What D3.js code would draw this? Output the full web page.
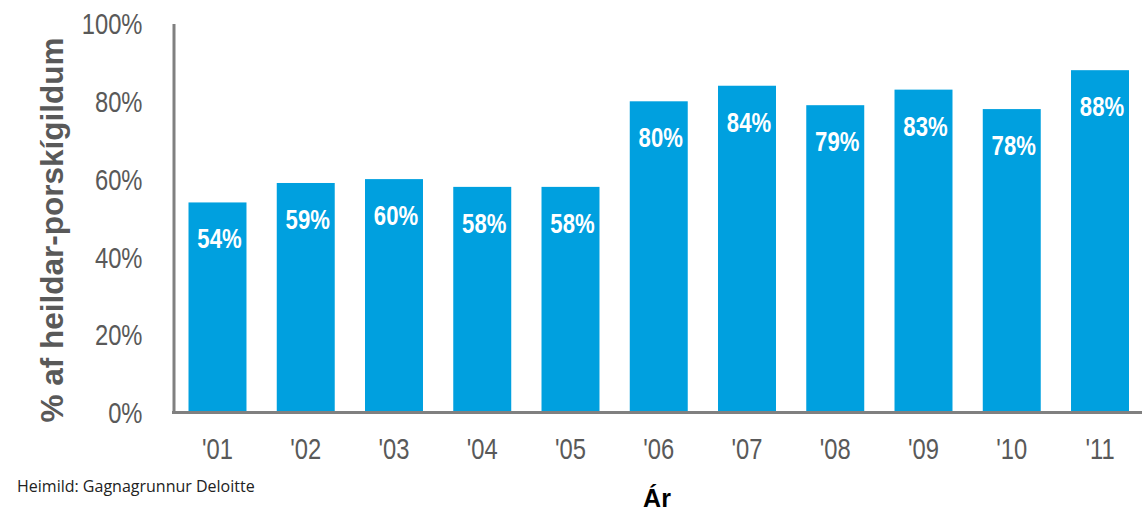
<!DOCTYPE html>
<html><head><meta charset="utf-8">
<script src="https://cdn.jsdelivr.net/npm/d3@7"></script>
<style>body{margin:0;background:#fff}svg{display:block}</style>
</head><body>
<script>
const categories = ["'01","'02","'03","'04","'05","'06","'07","'08","'09","'10","'11"];
const values = [54,59,60,58,58,80,84,79,83,78,88];
const yTicks = [0,20,40,60,80,100];
const yTitle = "% af heildar-porskígildum";
const xTitle = "Ár";
const source = "Heimild: Gagnagrunnur Deloitte";

const W=1142,H=513;
const svg=d3.select("body").append("svg").attr("width",W).attr("height",H);
const x=d3.scaleBand().domain(categories).range([173.5,1144]).paddingInner(0.343).paddingOuter(0.17);
const y=d3.scaleLinear().domain([0,100]).range([412.5,23.5]);
const sans="'Liberation Sans',Arial,sans-serif";
const SX=0.82; // condensed look

// bars
svg.selectAll("rect.bar").data(values).enter().append("rect").attr("class","bar")
 .attr("x",(d,i)=>x(categories[i])).attr("width",x.bandwidth())
 .attr("y",d=>y(d)).attr("height",d=>y(0)-y(d)).attr("fill","#00a0df");

svg.selectAll("text.val").data(values).enter().append("text").attr("class","val")
 .attr("transform",(d,i)=>`translate(${x(categories[i])+x.bandwidth()/2+2},${y(d)+46}) scale(${SX},1)`)
 .attr("text-anchor","middle").attr("fill","#fff").style("font-family",sans)
 .style("font-weight","bold").style("font-size","27px").text(d=>d+"%");

// y axis
const ya=svg.append("g").attr("transform","translate(173.5,0)")
 .call(d3.axisLeft(y).tickValues(yTicks).tickSize(0).tickPadding(31).tickFormat(d=>d+"%"));
ya.select(".domain").attr("stroke","#808080").attr("stroke-width",3);
ya.selectAll(".tick text").attr("fill","#595959").style("font-family",sans).style("font-size","29px")
 .attr("dy","0.35em").attr("transform",`translate(-31,0) scale(${SX},1) translate(31,0)`);

// x axis
const xa=svg.append("g").attr("transform","translate(0,412.5)")
 .call(d3.axisBottom(x).tickSize(0).tickPadding(26));
xa.select(".domain").attr("d","M172,0H1142").attr("stroke","#808080").attr("stroke-width",3);
xa.selectAll(".tick text").attr("fill","#595959").style("font-family",sans).style("font-size","29px")
 .attr("transform",`scale(${SX},1)`);

svg.append("text").attr("transform","translate(63,230) rotate(-90)").attr("text-anchor","middle")
 .attr("fill","#595959").style("font-family",sans).style("font-weight","bold")
 .style("font-size","31.5px").text(yTitle);

svg.append("text").attr("x",657).attr("y",507).attr("text-anchor","middle").attr("fill","#000")
 .style("font-family",sans).style("font-weight","bold").style("font-size","25px").text(xTitle);

svg.append("text").attr("x",17).attr("y",492).attr("fill","#222")
 .style("font-family","'Open Sans',sans-serif").style("font-size","16px").text(source);
</script>
</body></html>
